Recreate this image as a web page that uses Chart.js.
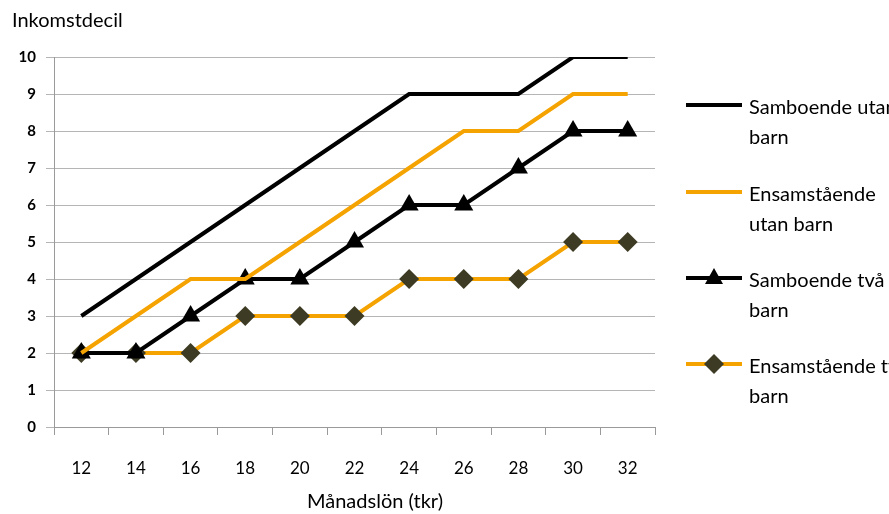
<!DOCTYPE html>
<html>
<head>
<meta charset="utf-8">
<script src="https://cdn.jsdelivr.net/npm/chart.js@4/dist/chart.umd.min.js"></script>
<style>
  html, body { margin: 0; padding: 0; background: #fff; }
  #wrap { width: 889px; height: 514px; position: relative; }
</style>
</head>
<body>
<div id="wrap"><canvas id="decilChart" width="889" height="514"></canvas></div>
<script>
const labels = ['12', '14', '16', '18', '20', '22', '24', '26', '28', '30', '32'];
const samboUtanBarn = [3, 4, 5, 6, 7, 8, 9, 9, 9, 10, 10];
const ensamUtanBarn = [2, 3, 4, 4, 5, 6, 7, 8, 8, 9, 9];
const samboTvaBarn = [2, 2, 3, 4, 4, 5, 6, 6, 7, 8, 8];
const ensamTvaBarn = [2, 2, 2, 3, 3, 3, 4, 4, 4, 5, 5];
const seriesNames = [
    ['Samboende utan', 'barn'],
    ['Ensamstående', 'utan barn'],
    ['Samboende två', 'barn'],
    ['Ensamstående två', 'barn']
];

const BLACK = '#000000';
const ORANGE = '#f5a300';
const OLIVE = '#3d3b23';
const FONT = 'Lato, "Open Sans", sans-serif';

// legend + axis titles drawn by hand, to match the original layout
const sideLegend = {
    id: 'sideLegend',
    afterDraw(chart) {
        const c = chart.ctx;
        c.save();
        c.fillStyle = '#000';
        c.font = '20px ' + FONT;
        c.textBaseline = 'middle';
        c.textAlign = 'left';
        c.fillText('Inkomstdecil', 12, 21);
        c.textAlign = 'center';
        c.fillText('Månadslön (tkr)', 375, 502);
        c.textAlign = 'left';

        const rows = [105, 192, 278, 364];
        chart.data.datasets.forEach(function (ds, i) {
            const y = rows[i];
            c.strokeStyle = ds.borderColor;
            c.lineWidth = 4;
            c.beginPath();
            c.moveTo(686, y);
            c.lineTo(742, y);
            c.stroke();
            const mx = 714;
            if (ds.pointStyle === 'triangle') {
                c.fillStyle = BLACK;
                c.beginPath();
                c.moveTo(mx, y - 10);
                c.lineTo(mx + 9, y + 6);
                c.lineTo(mx - 9, y + 6);
                c.closePath();
                c.fill();
            } else if (ds.pointStyle === 'rectRot') {
                c.fillStyle = OLIVE;
                c.beginPath();
                c.moveTo(mx, y - 10);
                c.lineTo(mx + 10, y);
                c.lineTo(mx, y + 10);
                c.lineTo(mx - 10, y);
                c.closePath();
                c.fill();
            }
            c.fillStyle = '#000';
            c.font = '20px ' + FONT;
            c.fillText(seriesNames[i][0], 749, y + 3);
            c.fillText(seriesNames[i][1], 749, y + 33);
        });
        c.restore();
    }
};

const ctx = document.getElementById('decilChart').getContext('2d');
const decilChart = new Chart(ctx, {
    type: 'line',
    data: {
        labels: labels,
        datasets: [{
            label: 'Samboende utan barn',
            data: samboUtanBarn,
            borderColor: BLACK,
            borderWidth: 4,
            pointRadius: 0,
            pointStyle: false,
            fill: false
        }, {
            label: 'Ensamstående utan barn',
            data: ensamUtanBarn,
            borderColor: ORANGE,
            borderWidth: 4,
            pointRadius: 0,
            pointStyle: false,
            fill: false
        }, {
            label: 'Samboende två barn',
            data: samboTvaBarn,
            borderColor: BLACK,
            borderWidth: 4,
            pointStyle: 'triangle',
            pointRadius: 11,
            pointBackgroundColor: BLACK,
            pointBorderColor: BLACK,
            pointBorderWidth: 0,
            fill: false
        }, {
            label: 'Ensamstående två barn',
            data: ensamTvaBarn,
            borderColor: ORANGE,
            borderWidth: 4,
            pointStyle: 'rectRot',
            pointRadius: 10,
            pointBackgroundColor: OLIVE,
            pointBorderColor: OLIVE,
            pointBorderWidth: 0,
            fill: false
        }]
    },
    plugins: [sideLegend],
    options: {
        responsive: false,
        animation: false,
        layout: {
            padding: { top: 57, right: 234, bottom: 0, left: 0 }
        },
        plugins: {
            legend: { display: false },
            tooltip: { enabled: false }
        },
        scales: {
            x: {
                offset: true,
                afterFit: function (scale) { scale.height = 87; },
                grid: {
                    offset: true,
                    drawOnChartArea: false,
                    drawTicks: true,
                    tickLength: 8,
                    color: '#9a9a9a'
                },
                border: { color: '#9a9a9a' },
                ticks: {
                    padding: 23,
                    color: '#000',
                    font: { family: FONT, size: 17 },
                    maxRotation: 0
                }
            },
            y: {
                min: 0,
                max: 10,
                afterFit: function (scale) { scale.width = 54; },
                grid: {
                    color: '#b5b5b5',
                    tickLength: 8
                },
                border: { color: '#9a9a9a' },
                ticks: {
                    stepSize: 1,
                    padding: 10,
                    color: '#000',
                    font: { family: FONT, size: 15, weight: 'bold' }
                }
            }
        }
    }
});
</script>
</body>
</html>
